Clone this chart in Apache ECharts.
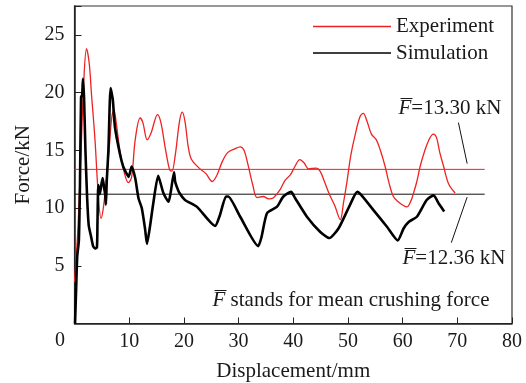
<!DOCTYPE html>
<html><head><meta charset="utf-8">
<script src="https://cdn.jsdelivr.net/npm/echarts@6/dist/echarts.min.js"></script>
<style>html,body{margin:0;padding:0;background:#fff}#c{width:526px;height:383px}</style>
</head><body><div id="c"></div>
<script>
// Experiment curve
const expDisp = [0.0,0.6,1.2,1.7,2.2,2.7,3.1,3.75,4.3,4.85,5.3,5.9,6.4,6.8,7.2,7.6,8.3,9.2,9.85,10.45,11.1,12.0,12.5,13.3,14.0,15.2,15.8,16.6,17.4,17.8,18.4,19.2,19.7,20.2,20.8,21.4,22.7,24.0,25.2,26.0,27.0,28.0,29.2,30.3,31.0,31.7,32.6,33.4,34.5,35.5,36.4,37.6,38.5,39.5,40.3,41.2,42.0,42.8,44.2,44.9,45.7,46.6,47.6,48.6,49.2,49.8,50.5,51.3,52.2,52.8,53.5,54.3,55.2,56.0,56.8,57.5,58.3,59.3,60.2,60.8,61.5,62.0,62.6,63.2,64.0,64.8,65.6,66.2,66.8,67.5,68.4,69.6];
const expForce = [3.6,8.0,15.0,21.0,23.8,22.5,19.9,15.9,11.5,9.1,10.1,12.8,15.5,17.8,18.5,17.5,15.0,12.9,12.2,12.7,15.9,17.8,17.4,15.9,16.5,18.1,17.4,15.2,13.3,13.2,14.5,17.5,18.3,17.5,15.3,14.2,13.5,13.0,12.3,12.8,14.0,14.8,15.1,15.3,15.0,13.8,12.0,10.9,11.0,10.8,10.9,11.6,12.4,12.9,13.6,14.2,13.9,13.4,13.45,13.2,12.3,11.2,10.2,9.0,10.5,12.2,14.5,16.3,17.9,18.2,17.5,16.4,15.9,14.9,13.6,12.2,11.0,10.5,10.2,10.1,10.6,11.3,12.3,13.6,14.9,15.9,16.4,16.1,14.8,13.6,12.1,11.3];
// Simulation curve
const simDisp = [0.1,0.3,0.5,0.8,1.0,1.2,1.4,1.55,1.75,2.0,2.3,2.6,3.0,3.4,3.75,4.1,4.2,4.35,4.6,4.8,5.15,5.4,5.6,5.75,5.9,6.2,6.6,7.0,7.4,8.3,8.9,9.5,9.9,10.45,11.1,11.7,12.3,12.9,13.25,13.8,14.4,15.3,16.25,17.2,17.6,18.2,18.4,18.7,19.2,20.2,22.4,25.7,26.6,27.7,28.1,30.3,33.6,34.2,35.2,37.0,38.2,39.6,40.35,42.5,44.9,46.6,48.3,50.4,51.7,52.5,54.7,57.1,59.1,60.2,61.1,62.6,64.4,65.65,66.6,67.6];
const simForce = [0.0,3.0,5.8,7.2,12.0,19.6,19.8,21.2,19.5,15.0,11.0,8.5,7.6,6.7,6.5,6.6,8.7,12.0,11.2,11.7,12.6,11.8,11.2,10.3,12.4,15.0,20.4,19.4,17.0,14.7,13.6,13.0,12.7,13.6,12.6,10.85,10.0,8.2,6.9,8.4,10.4,12.8,11.3,10.55,11.4,13.1,12.3,11.85,11.3,10.7,10.1,8.45,9.4,11.0,11.0,9.25,6.7,7.5,9.55,10.1,11.0,11.4,10.85,9.25,7.95,7.4,8.25,10.3,11.4,11.1,9.8,8.4,7.2,8.25,8.8,9.25,10.7,11.1,10.4,9.7];
// Mean lines as drawn
const meanExpLevel = 13.35;
const meanSimLevel = 11.2;
const meanSpan = [0, 75];
// Leader lines (data coords)
const leaderExp = [[70.2,17.4],[71.8,13.85]];
const leaderSim = [[71.8,10.95],[68.9,7.0]];
// Axis ticks
const xTicks = [0,10,20,30,40,50,60,70,80];
const yTicks = [0,5,10,15,20,25];

const zip = (a,b) => a.map((v,i)=>[v,b[i]]);
const FONT = 'Liberation Serif';
const TC = '#1a1a1a';
const RED = '#ee2222';

function fbarText(x, y, rest) {
  return {
    type: 'group', left: x, top: y - 12,
    children: [
      { type: 'text', x: 0, y: 0, style: { text: '{i|F}' + rest, font: '21px ' + FONT, fill: TC,
        rich: { i: { fontStyle: 'italic', fontFamily: FONT, fontSize: 21, fill: TC } } } },
      { type: 'line', shape: { x1: 2, y1: 0.5, x2: 14, y2: 0.5 }, style: { stroke: TC, lineWidth: 1 } }
    ]
  };
}

const chart = echarts.init(document.getElementById('c'));
chart.setOption({
  animation: false,
  textStyle: { fontFamily: FONT },
  grid: { left: 74.5, right: 14, top: 6, bottom: 59.5, show: true, borderColor: '#333', borderWidth: 1.2,
    containLabel: false, outerBoundsMode: 'none' },
  legend: {
    orient: 'vertical', left: 308, top: 11, itemWidth: 78, itemHeight: 1.3, itemGap: 5.5,
    icon: 'rect',
    data: ['Experiment', 'Simulation'],
    textStyle: { fontFamily: FONT, fontSize: 21, color: TC, lineHeight: 21 }
  },
  xAxis: {
    type: 'value', min: 0, max: 80, interval: 10,
    name: 'Displacement/mm', nameLocation: 'middle', nameGap: 37,
    nameTextStyle: { fontFamily: FONT, fontSize: 21, color: TC },
    axisLine: { lineStyle: { color: '#222', width: 1.5 } },
    axisTick: { inside: true, length: 6, lineStyle: { color: '#222' } },
    axisLabel: { fontFamily: FONT, fontSize: 20, color: TC, margin: 8,
      formatter: v => (v === 0 ? '' : String(v)) },
    splitLine: { show: false }
  },
  yAxis: {
    type: 'value', min: 0, max: 27.5, interval: 5,
    name: 'Force/kN', nameLocation: 'middle', nameGap: 41,
    nameTextStyle: { fontFamily: FONT, fontSize: 21, color: TC },
    axisLine: { show: true, lineStyle: { color: '#222', width: 1.5 } },
    axisTick: { inside: true, length: 7, lineStyle: { color: '#222' } },
    axisLabel: { fontFamily: FONT, fontSize: 20, color: TC, margin: 10,
      formatter: v => (v > 0 && yTicks.includes(v)) ? String(v) : '' },
    splitLine: { show: false }
  },
  series: [
    { name: 'Experiment', type: 'line', data: zip(expDisp, expForce), showSymbol: false, symbol: 'none',
      smooth: 0.35, lineStyle: { color: RED, width: 1.3 }, itemStyle: { color: RED }, z: 3 },
    { name: 'Simulation', type: 'line', data: zip(simDisp, simForce), showSymbol: false, symbol: 'none',
      smooth: 0.2, lineStyle: { color: '#000', width: 2.6 }, itemStyle: { color: '#000' }, z: 4 },
    { name: 'meanExp', type: 'line', data: meanSpan.map(x=>[x, meanExpLevel]), symbol: 'none', silent: true,
      lineStyle: { color: '#ff1a1a', width: 1 }, z: 2 },
    { name: 'meanSim', type: 'line', data: meanSpan.map(x=>[x, meanSimLevel]), symbol: 'none', silent: true,
      lineStyle: { color: '#111', width: 1 }, z: 2 },
    { name: 'leadExp', type: 'line', data: leaderExp, symbol: 'none', silent: true,
      lineStyle: { color: '#111', width: 1 } },
    { name: 'leadSim', type: 'line', data: leaderSim, symbol: 'none', silent: true,
      lineStyle: { color: '#111', width: 1 } }
  ],
  graphic: [
    { type: 'text', left: 55, top: 331, style: { text: String(xTicks[0]), font: '20px ' + FONT, fill: TC } },
    fbarText(398, 108, '=13.30 kN'),
    fbarText(402, 258, '=12.36 kN'),
    fbarText(212, 300, ' stands for mean crushing force')
  ]
});
</script></body></html>
